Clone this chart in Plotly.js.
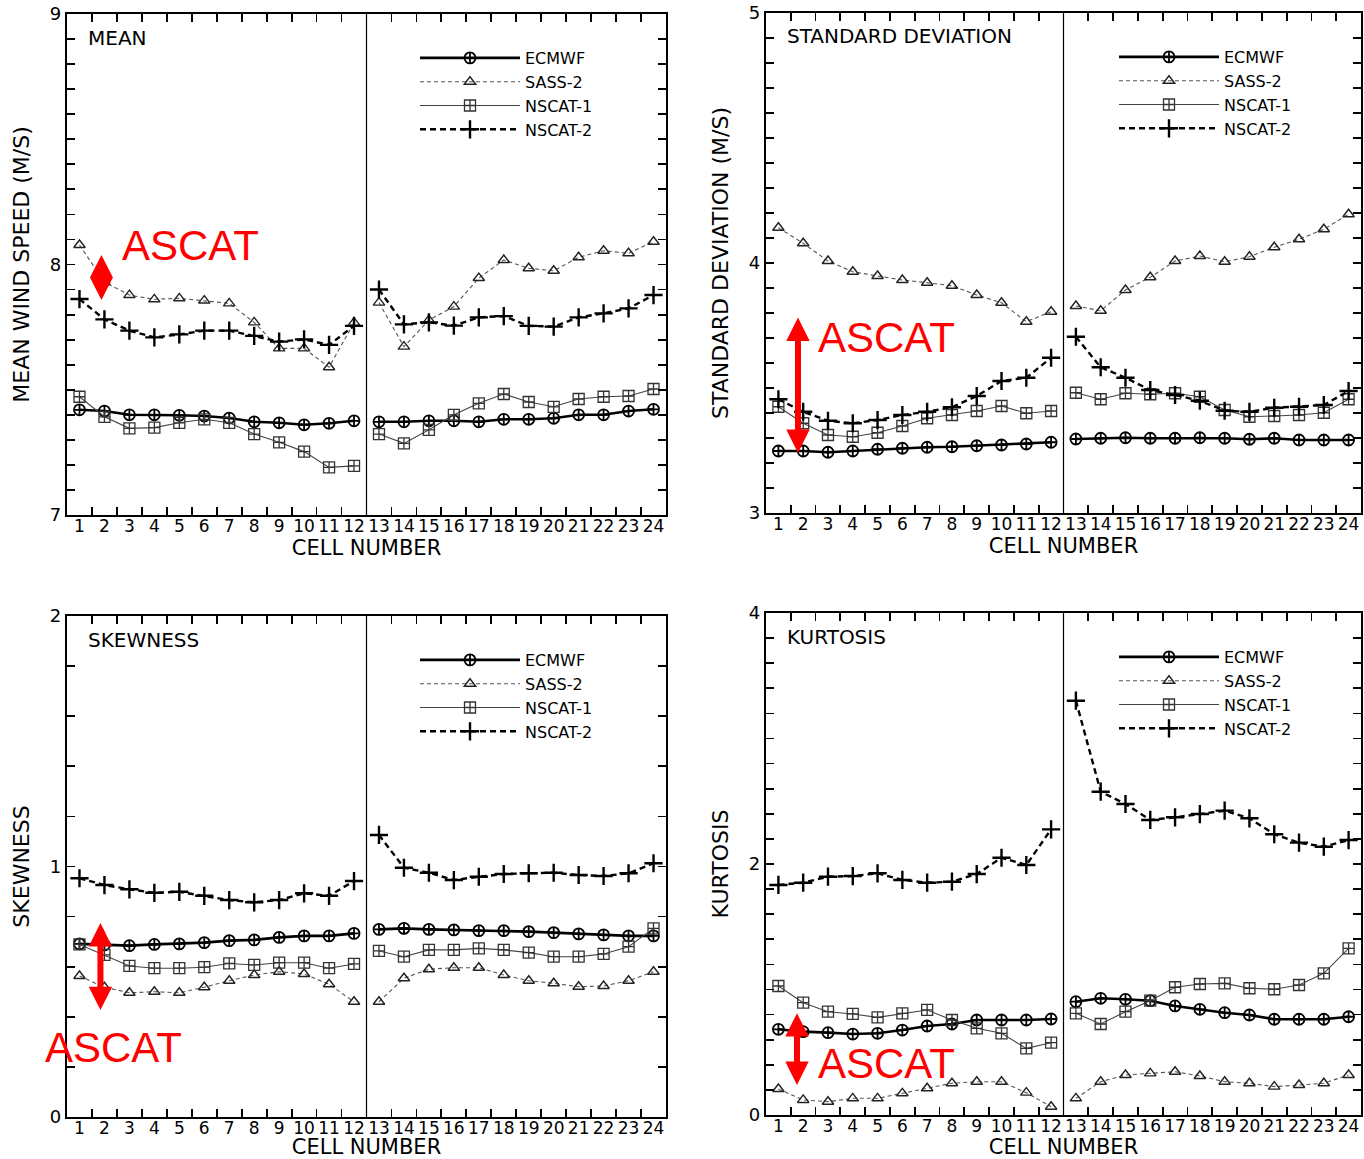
<!DOCTYPE html>
<html>
<head>
<meta charset="utf-8">
<script src="https://cdn.plot.ly/plotly-3.0.1.min.js"></script>
<style>html,body{margin:0;padding:0;background:#fff}#chart{width:1364px;height:1159px}</style>
</head>
<body>
<div id="chart"></div>
<script>
// ---------------- data ----------------
const CELLS = [1,2,3,4,5,6,7,8,9,10,11,12,13,14,15,16,17,18,19,20,21,22,23,24];
const CELL_LABELS = ['1','2','3','4','5','6','7','8','9','10','11','12','13','14','15','16','17','18','19','20','21','22','23','24'];
const SERIES_NAMES = ['ECMWF','SASS-2','NSCAT-1','NSCAT-2'];

const MEAN_ECMWF  = [7.420,7.415,7.400,7.400,7.398,7.395,7.387,7.372,7.368,7.360,7.366,7.376, 7.372,7.372,7.376,7.376,7.372,7.382,7.382,7.386,7.400,7.400,7.415,7.422];
const MEAN_SASS2  = [8.078,7.930,7.878,7.861,7.865,7.856,7.845,7.769,7.665,7.665,7.590,7.768, 7.848,7.672,7.778,7.832,7.946,8.018,7.985,7.975,8.029,8.055,8.045,8.091];
const MEAN_NSCAT1 = [7.472,7.392,7.346,7.349,7.368,7.382,7.368,7.323,7.290,7.253,7.190,7.196, 7.323,7.286,7.340,7.400,7.446,7.483,7.451,7.432,7.463,7.472,7.475,7.503];
const MEAN_NSCAT2 = [7.862,7.781,7.736,7.709,7.721,7.736,7.736,7.715,7.692,7.701,7.679,7.755, 7.900,7.761,7.769,7.756,7.789,7.794,7.755,7.752,7.789,7.805,7.825,7.878];

const SD_ECMWF  = [3.248,3.248,3.243,3.248,3.255,3.259,3.263,3.265,3.269,3.272,3.276,3.283, 3.296,3.299,3.301,3.299,3.299,3.301,3.299,3.295,3.299,3.292,3.292,3.292];
const SD_SASS2  = [4.141,4.079,4.008,3.965,3.948,3.932,3.921,3.909,3.872,3.841,3.765,3.805, 3.828,3.809,3.892,3.943,4.008,4.028,4.005,4.025,4.063,4.095,4.135,4.195];
const SD_NSCAT1 = [3.425,3.359,3.312,3.305,3.321,3.348,3.379,3.392,3.408,3.428,3.399,3.408, 3.481,3.455,3.479,3.475,3.479,3.465,3.412,3.385,3.388,3.392,3.401,3.455];
const SD_NSCAT2 = [3.455,3.405,3.369,3.359,3.372,3.392,3.405,3.423,3.468,3.528,3.541,3.621, 3.705,3.583,3.541,3.492,3.472,3.449,3.409,3.405,3.421,3.425,3.432,3.488];

const SKEW_ECMWF  = [0.691,0.687,0.684,0.689,0.691,0.696,0.704,0.707,0.717,0.723,0.723,0.733, 0.749,0.753,0.749,0.747,0.744,0.744,0.740,0.736,0.731,0.727,0.723,0.723];
const SKEW_SASS2  = [0.563,0.518,0.496,0.500,0.496,0.518,0.544,0.567,0.580,0.571,0.530,0.460, 0.460,0.554,0.590,0.596,0.596,0.567,0.544,0.534,0.520,0.523,0.544,0.580];
const SKEW_NSCAT1 = [0.689,0.647,0.603,0.594,0.594,0.598,0.613,0.607,0.616,0.616,0.594,0.611, 0.663,0.640,0.667,0.667,0.673,0.667,0.656,0.640,0.640,0.651,0.680,0.753];
const SKEW_NSCAT2 = [0.953,0.926,0.909,0.895,0.899,0.883,0.866,0.857,0.866,0.893,0.883,0.942, 1.126,0.995,0.975,0.946,0.959,0.970,0.973,0.975,0.966,0.962,0.973,1.013];

const KURT_ECMWF  = [0.683,0.664,0.656,0.645,0.651,0.677,0.709,0.725,0.757,0.757,0.757,0.765, 0.903,0.930,0.922,0.911,0.869,0.842,0.815,0.797,0.763,0.763,0.763,0.783];
const KURT_SASS2  = [0.207,0.120,0.106,0.133,0.133,0.173,0.213,0.253,0.265,0.265,0.178,0.066, 0.133,0.265,0.319,0.332,0.345,0.311,0.265,0.253,0.226,0.239,0.253,0.319];
const KURT_NSCAT1 = [1.028,0.895,0.823,0.805,0.778,0.810,0.837,0.757,0.691,0.651,0.531,0.576, 0.810,0.725,0.823,0.911,1.018,1.044,1.049,1.010,1.002,1.036,1.129,1.328];
const KURT_NSCAT2 = [1.833,1.851,1.899,1.904,1.926,1.873,1.851,1.859,1.920,2.050,1.992,2.276, 3.301,2.576,2.478,2.351,2.372,2.398,2.425,2.364,2.237,2.170,2.138,2.191];

const PANEL_TITLES = ['MEAN','STANDARD DEVIATION','SKEWNESS','KURTOSIS'];
const Y_TITLES = ['MEAN WIND SPEED (M/S)','STANDARD DEVIATION (M/S)','SKEWNESS','KURTOSIS'];
const Y_RANGES = [[7,9],[3,5],[0,2],[0,4]];
const Y_TICKS = [[7,8,9],[3,4,5],[0,1,2],[0,2,4]];
const Y_MINOR_STEP = [0.1,0.1,0.2,0.2];
const X_TITLE = 'CELL NUMBER';

// red ASCAT overlay (label centre, arrow top / bottom) in each panel's data units
const ASCAT_TEXT_X = [5.44, 5.38, 2.36, 5.38];
const ASCAT_TEXT_Y = [8.074, 3.70, 0.279, 0.414];
const ASCAT_ARROW_X = [1.88, 1.79, 1.84, 1.75];
const ASCAT_ARROW_TOP = [8.038, 3.788, 0.780, 0.823];
const ASCAT_ARROW_BOTTOM = [7.858, 3.240, 0.427, 0.239];

// ---------------- build ----------------
const PANEL_DATA = [
  [MEAN_ECMWF, MEAN_SASS2, MEAN_NSCAT1, MEAN_NSCAT2],
  [SD_ECMWF, SD_SASS2, SD_NSCAT1, SD_NSCAT2],
  [SKEW_ECMWF, SKEW_SASS2, SKEW_NSCAT1, SKEW_NSCAT2],
  [KURT_ECMWF, KURT_SASS2, KURT_NSCAT1, KURT_NSCAT2]
];

const STYLES = [
  {line:{color:'#000', width:2.6, dash:'solid'}, marker:{symbol:'circle-cross-open', size:11, color:'#000', line:{width:1.8,color:'#000'}}},
  {line:{color:'#555', width:1.1, dash:'4px,3px'}, marker:{symbol:'triangle-up-open', size:10, color:'#222', line:{width:1.4,color:'#222'}}},
  {line:{color:'#444', width:1.1, dash:'solid'}, marker:{symbol:'square-cross-open', size:11, color:'#333', line:{width:1.3,color:'#333'}}},
  {line:{color:'#000', width:2.4, dash:'6px,4px'}, marker:{symbol:'cross-thin-open', size:13, color:'#000', line:{width:2.4,color:'#000'}}}
];

const FONT = 'DejaVu Sans, Liberation Sans, sans-serif';
const RED_FONT = 'Liberation Sans, Arial, sans-serif';

// pixel layout of the four panels (paper fractions)
const W = 1364, H = 1159;
const XDOM = [[67/W, 666/W],[766/W, 1361/W],[67/W, 666/W],[766/W, 1361/W]];
const YDOM = [[1-515/H, 1-14/H],[1-513/H, 1-13/H],[1-1117/H, 1-616/H],[1-1115/H, 1-613/H]];

function withGap(arr) {
  const x = [], y = [];
  CELLS.forEach((c, i) => {
    if (c === 13) { x.push(12.5); y.push(null); }
    x.push(c); y.push(arr[i]);
  });
  return {x, y};
}

const traces = [];
const layout = {
  width: W, height: H,
  margin: {l:0, r:0, t:0, b:0},
  paper_bgcolor: '#fff', plot_bgcolor: '#fff',
  showlegend: true,
  font: {family: FONT, color: '#000', size: 17},
  shapes: [], annotations: []
};

const minorX = CELLS.slice(0, 23).map(c => c + 0.5);

for (let p = 0; p < 4; p++) {
  const sfx = p === 0 ? '' : String(p + 1);
  const xa = 'x' + sfx, ya = 'y' + sfx;
  const legName = 'legend' + sfx;
  PANEL_DATA[p].forEach((arr, s) => {
    const g = withGap(arr);
    traces.push({
      type: 'scatter', mode: 'lines+markers',
      x: g.x, y: g.y, name: SERIES_NAMES[s],
      xaxis: xa, yaxis: ya, legend: legName,
      connectgaps: false,
      line: STYLES[s].line, marker: STYLES[s].marker,
      cliponaxis: false
    });
  });

  layout['xaxis' + sfx] = {
    domain: XDOM[p], anchor: ya, range: [0.5, 24.5],
    tickmode: 'array', tickvals: CELLS, ticktext: CELL_LABELS,
    ticks: 'inside', ticklen: 0, tickwidth: 0,
    ticklabelstandoff: -6,
    minor: {tickmode: 'array', tickvals: minorX, ticks: 'inside', ticklen: 8, tickwidth: 1.8, tickcolor: '#000'},
    showline: true, linecolor: '#000', linewidth: 2.2, mirror: 'ticks',
    showgrid: false, zeroline: false,
    tickfont: {family: FONT, size: 17, color: '#000'},
    title: {text: X_TITLE, font: {family: FONT, size: 21, color: '#000'}, standoff: 0},
    automargin: false
  };
  layout['yaxis' + sfx] = {
    domain: YDOM[p], anchor: xa, range: Y_RANGES[p],
    tickmode: 'array', tickvals: Y_TICKS[p],
    ticks: 'inside', ticklen: 8, tickwidth: 1.8, tickcolor: '#000',
    minor: {tick0: Y_RANGES[p][0], dtick: Y_MINOR_STEP[p], ticks: 'inside', ticklen: 8, tickwidth: 1.8, tickcolor: '#000'},
    showline: true, linecolor: '#000', linewidth: 2.2, mirror: 'ticks',
    showgrid: false, zeroline: false,
    tickfont: {family: FONT, size: 18, color: '#000'},
    title: {text: Y_TITLES[p], font: {family: FONT, size: 22, color: '#000'}, standoff: 14},
    automargin: false
  };

  // legend inside the panel, upper right
  const legLeft = XDOM[p][0] + 348 / W;
  layout[legName] = {
    x: legLeft, y: YDOM[p][1] - 27 / H, xanchor: 'left', yanchor: 'top',
    bgcolor: 'rgba(0,0,0,0)', borderwidth: 0,
    font: {family: FONT, size: 16, color: '#000'},
    itemwidth: 100, traceorder: 'normal', tracegroupgap: 0
  };

  // divider between the two swaths
  layout.shapes.push({type: 'line', xref: xa, yref: ya + ' domain', x0: 12.5, x1: 12.5, y0: 0, y1: 1,
    line: {color: '#000', width: 1.2}});

  // panel label
  layout.annotations.push({xref: xa + ' domain', yref: ya + ' domain', x: 0.032, y: 0.981,
    xanchor: 'left', yanchor: 'top', showarrow: false, text: PANEL_TITLES[p],
    font: {family: FONT, size: 20, color: '#000'}});

  // red ASCAT overlay
  layout.annotations.push({xref: xa, yref: ya, x: ASCAT_TEXT_X[p], y: ASCAT_TEXT_Y[p],
    xanchor: 'center', yanchor: 'middle', showarrow: false, text: 'ASCAT',
    font: {family: RED_FONT, size: 42, color: '#ff0000'}});
  if (p === 0) {
    const mid = (ASCAT_ARROW_TOP[p] + ASCAT_ARROW_BOTTOM[p]) / 2;
    const hw = 0.46;
    const cx = ASCAT_ARROW_X[p];
    layout.shapes.push({type: 'path', xref: xa, yref: ya,
      path: `M ${cx - hw},${mid} L ${cx},${ASCAT_ARROW_TOP[p]} L ${cx + hw},${mid} L ${cx},${ASCAT_ARROW_BOTTOM[p]} Z`,
      fillcolor: '#ff0000', line: {color: '#ff0000', width: 0}});
  } else {
    layout.annotations.push({xref: xa, yref: ya, axref: xa, ayref: ya,
      x: ASCAT_ARROW_X[p], y: ASCAT_ARROW_BOTTOM[p], ax: ASCAT_ARROW_X[p], ay: ASCAT_ARROW_TOP[p],
      text: '', showarrow: true, arrowside: 'end+start',
      arrowhead: 2, startarrowhead: 2, arrowsize: 0.78, startarrowsize: 0.78,
      arrowwidth: 6, arrowcolor: '#ff0000', standoff: 0, startstandoff: 0});
  }
}

Plotly.newPlot('chart', traces, layout, {staticPlot: true, displayModeBar: false});
</script>
</body>
</html>
